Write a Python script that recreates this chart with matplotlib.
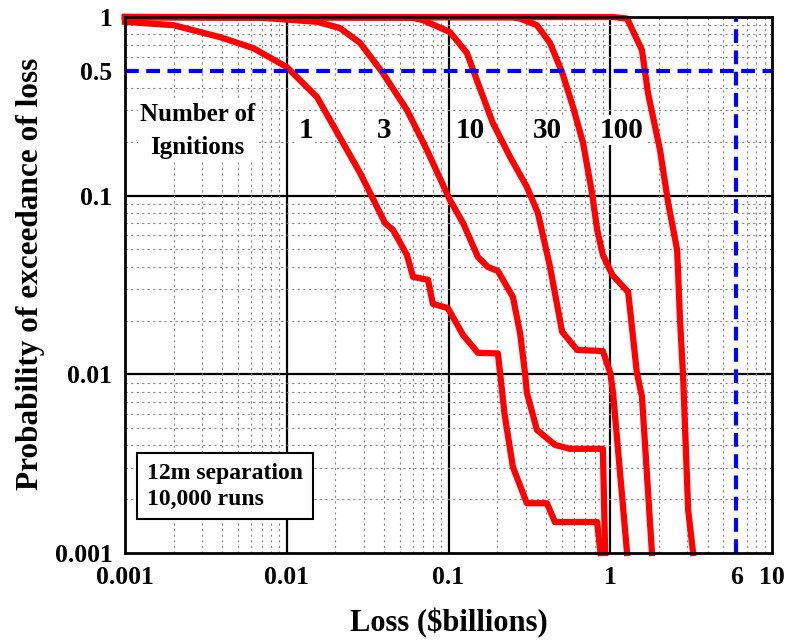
import numpy as np
import matplotlib
matplotlib.use("Agg")
import matplotlib.pyplot as plt
from matplotlib.ticker import NullFormatter

plt.rcParams['font.family'] = ['Liberation Serif', 'DejaVu Serif']
plt.rcParams['font.weight'] = 'bold'
plt.rcParams['axes.labelweight'] = 'bold'

# exceedance curves (loss in $billions, probability)
loss_1 = [0.001, 0.002, 0.0039, 0.0062, 0.01, 0.0154, 0.0284, 0.0405, 0.0454, 0.0553,
          0.0604, 0.0747, 0.080, 0.099, 0.123, 0.152, 0.202, 0.222, 0.25, 0.305,
          0.406, 0.455, 0.83, 0.87]
prob_1 = [0.94, 0.90, 0.77, 0.67, 0.525, 0.356, 0.134, 0.0703, 0.0643, 0.0466,
          0.0351, 0.0338, 0.0248, 0.0235, 0.0166, 0.0132, 0.0131, 0.006, 0.00303, 0.0019,
          0.0019, 0.00149, 0.00149, 0.001]

loss_3 = [0.001, 0.007, 0.0154, 0.0213, 0.0284, 0.039, 0.0553, 0.0736, 0.102, 0.123,
          0.152, 0.175, 0.202, 0.25, 0.277, 0.297, 0.305, 0.352, 0.455, 0.563,
          0.90, 0.93]
prob_3 = [1.0, 0.99, 0.94, 0.868, 0.716, 0.49, 0.302, 0.180, 0.0946, 0.0703,
          0.0454, 0.0399, 0.0379, 0.0271, 0.017, 0.0102, 0.0079, 0.00489, 0.00403, 0.00383,
          0.00383, 0.001]

loss_10 = [0.001, 0.06, 0.0695, 0.102, 0.130, 0.152, 0.188, 0.240, 0.305, 0.357,
           0.424, 0.504, 0.624, 0.90, 1.0, 1.04, 1.27]
prob_10 = [1.0, 0.99, 0.96, 0.824, 0.629, 0.427, 0.255, 0.165, 0.112, 0.080,
           0.040, 0.0173, 0.0137, 0.0135, 0.0102, 0.0079, 0.001]

loss_30 = [0.001, 0.25, 0.277, 0.352, 0.424, 0.504, 0.589, 0.679, 0.771, 0.83,
           0.90, 1.03, 1.29, 1.46, 1.57, 1.81]
prob_30 = [1.0, 0.995, 0.98, 0.90, 0.716, 0.49, 0.313, 0.197, 0.1035, 0.0643,
           0.0466, 0.036, 0.0289, 0.0102, 0.0075, 0.001]

loss_100 = [0.001, 1.04, 1.27, 1.57, 1.71, 2.03, 2.28, 2.59, 2.70, 2.82, 3.03, 3.25]
prob_100 = [1.0, 1.0, 0.98, 0.653, 0.376, 0.18, 0.091, 0.0497, 0.020, 0.0097, 0.00174, 0.001]

curves = [(loss_1, prob_1), (loss_3, prob_3), (loss_10, prob_10),
          (loss_30, prob_30), (loss_100, prob_100)]

ignitions = ["1", "3", "10", "30", "100"]
ignition_x = [0.0132, 0.040, 0.136, 0.406, 1.18]

xticks = [0.001, 0.01, 0.1, 1, 6, 10]
xtick_labels = ["0.001", "0.01", "0.1", "1", "6", "10"]
yticks = [0.001, 0.01, 0.1, 0.5, 1]
ytick_labels = ["0.001", "0.01", "0.1", "0.5", "1"]
decades_x = [0.01, 0.1, 1]
decades_y = [0.01, 0.1]

fig = plt.figure(figsize=(7.87, 6.4), dpi=100)
ax = fig.add_axes([0.1588, 0.1359, 0.8222, 0.8375])
ax.set_xscale('log')
ax.set_yscale('log')
ax.set_xlim(0.001, 10)
ax.set_ylim(0.001, 1)

# minor grid (dotted grey) and major decade lines (solid black)
minor_x = [m * 10.0 ** k for k in range(-3, 1) for m in range(2, 10)]
minor_y = [m * 10.0 ** k for k in range(-3, 0) for m in range(2, 10)]
ax.set_xticks(minor_x, minor=True)
ax.set_yticks(minor_y, minor=True)
ax.xaxis.set_minor_formatter(NullFormatter())
ax.yaxis.set_minor_formatter(NullFormatter())
ax.grid(which='minor', color='#888888', linestyle=(0, (2, 3)), linewidth=0.8, zorder=0)
for d in decades_x:
    ax.axvline(d, color='black', linewidth=1.6, zorder=1)
for d in decades_y:
    ax.axhline(d, color='black', linewidth=1.6, zorder=1)

for lx, py in curves:
    ax.plot(lx, py, color='red', linewidth=4.5, solid_joinstyle='round',
            clip_on=False, zorder=3)

ax.axhline(0.5, color='blue', linewidth=3, linestyle=(0, (3.3, 1.8)), zorder=4)
ax.axvline(6, color='blue', linewidth=3, linestyle=(0, (3.3, 1.8)), zorder=4)

ax.set_xticks(xticks)
ax.set_xticklabels(xtick_labels)
ax.set_yticks(yticks)
ax.set_yticklabels(ytick_labels)
ax.tick_params(which='both', length=0)
ax.tick_params(axis='x', pad=9, labelsize=18.5)
ax.tick_params(axis='y', pad=9, labelsize=18.5)
for s in ax.spines.values():
    s.set_linewidth(2)
    s.set_zorder(5)

white = dict(facecolor='white', edgecolor='none', pad=1)
ax.text(0.0028, 0.23, "Number of\nIgnitions", fontsize=18, ha='center', va='center',
        linespacing=1.6, bbox=white, zorder=2)
for lab, xp in zip(ignitions, ignition_x):
    ax.text(xp, 0.233, lab, fontsize=21, ha='center', va='center', bbox=white, zorder=2)

ax.text(0.00415, 0.00237, "12m separation\n10,000 runs", fontsize=17, ha='center', va='center',
        multialignment='left', linespacing=1.3, zorder=6,
        bbox=dict(facecolor='white', edgecolor='black', linewidth=1.5, pad=7))

ax.set_xlabel("Loss ($billions)", fontsize=22, labelpad=14)
ax.set_ylabel("Probability of exceedance of loss", fontsize=22.5)
ax.yaxis.set_label_coords(-0.124, 0.52)

fig.savefig("out.png", dpi=100)
